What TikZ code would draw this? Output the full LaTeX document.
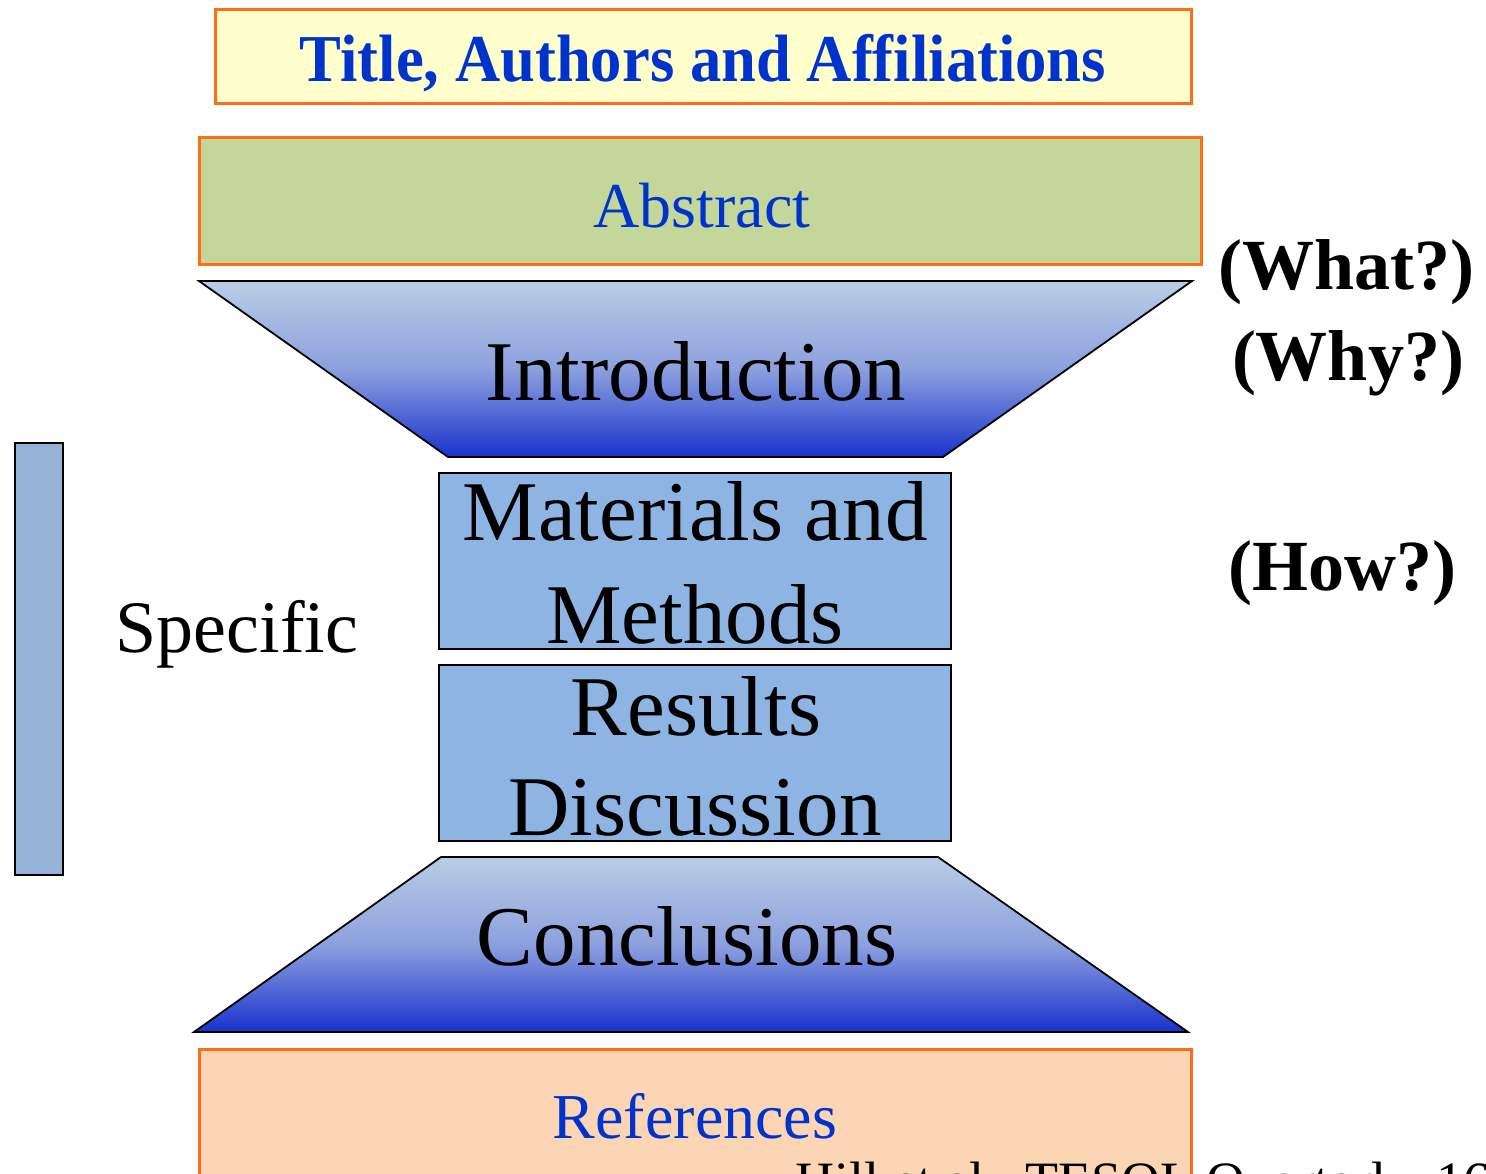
\documentclass[tikz,border=0pt]{standalone}
\usepackage{graphicx}
\usepackage{fontspec}
\setmainfont{Liberation Serif}

\definecolor{frameorange}{RGB}{255,110,20}
\definecolor{headblue}{RGB}{0,51,204}
\definecolor{titlefill}{RGB}{255,255,204}
\definecolor{abstractfill}{RGB}{196,215,155}
\definecolor{reffill}{RGB}{252,213,180}
\definecolor{sectionfill}{RGB}{141,180,226}
\definecolor{barfill}{RGB}{149,179,215}
\definecolor{funneltop}{RGB}{185,205,229}
\definecolor{funnelmid}{RGB}{140,160,222}
\definecolor{funnelbottom}{RGB}{25,50,205}

\begin{document}
\begin{tikzpicture}[x=100pt, y=100pt,
    frame/.style={draw=frameorange, line width=3pt},
    sectionbox/.style={draw=black, fill=sectionfill, line width=1.5pt},
    funnel/.style={draw=black, line width=1.8pt, top color=funneltop, bottom color=funnelbottom, middle color=funnelmid},
    big/.style={anchor=base, font=\fontsize{85}{103}\selectfont},
    head/.style={anchor=base, text=headblue, font=\fontsize{64}{70}\selectfont},
    ask/.style={anchor=base, font=\fontsize{72}{90}\bfseries\selectfont}]
    \useasboundingbox (0,0) rectangle (14.86,-11.74);
    \clip (0,0) rectangle (14.86,-11.74);

    % top of the paper
    \draw[frame, fill=titlefill] (2.15,-0.10) rectangle (11.91,-1.04);
    \node (title) at (7.03,-0.82) [head, font=\fontsize{67}{70}\bfseries\selectfont] {\scalebox{0.935}[1]{Title, Authors and Affiliations}};
    \draw[frame, fill=abstractfill] (1.99,-1.38) rectangle (12.01,-2.65);
    \node (abstract) at (7.02,-2.28) [head] {Abstract};

    % the hourglass
    \shade[funnel] (1.99,-2.81) -- (11.92,-2.81) -- (9.43,-4.57) -- (4.48,-4.57) -- cycle;
    \node (intro) at (6.96,-4.00) [big] {Introduction};

    \draw[sectionbox] (4.39,-4.73) rectangle (9.51,-6.49);
    \node (materials) at (6.95,-5.40) [big] {Materials and};
    \node (methods) at (6.95,-6.43) [big] {Methods};

    \draw[sectionbox] (4.39,-6.65) rectangle (9.51,-8.41);
    \node (results) at (6.96,-7.35) [big] {Results};
    \node (discussion) at (6.95,-8.35) [big] {Discussion};

    \shade[funnel] (4.41,-8.57) -- (9.38,-8.57) -- (11.88,-10.32) -- (1.94,-10.32) -- cycle;
    \node (conclusions) at (6.87,-9.65) [big] {Conclusions};

    % bottom of the paper
    \draw[frame, fill=reffill] (1.99,-10.49) rectangle (11.91,-12.20);
    \node (references) at (6.95,-11.38) [head] {References};
    \node (source) at (7.92,-11.99) [anchor=base west, font=\fontsize{54}{60}\selectfont] {Hill et al., TESOL Quarterly, 16};

    % left side
    \draw[fill=barfill, line width=1.8pt] (0.15,-4.43) rectangle (0.63,-8.75);
    \node (specific) at (2.37,-6.52) [anchor=base, font=\fontsize{74}{80}\selectfont] {Specific};

    % right side
    \node (what) at (13.46,-2.90) [ask] {(What?)};
    \node (why) at (13.48,-3.80) [ask] {(Why?)};
    \node (how) at (13.42,-5.90) [ask] {(How?)};
\end{tikzpicture}
\end{document}
